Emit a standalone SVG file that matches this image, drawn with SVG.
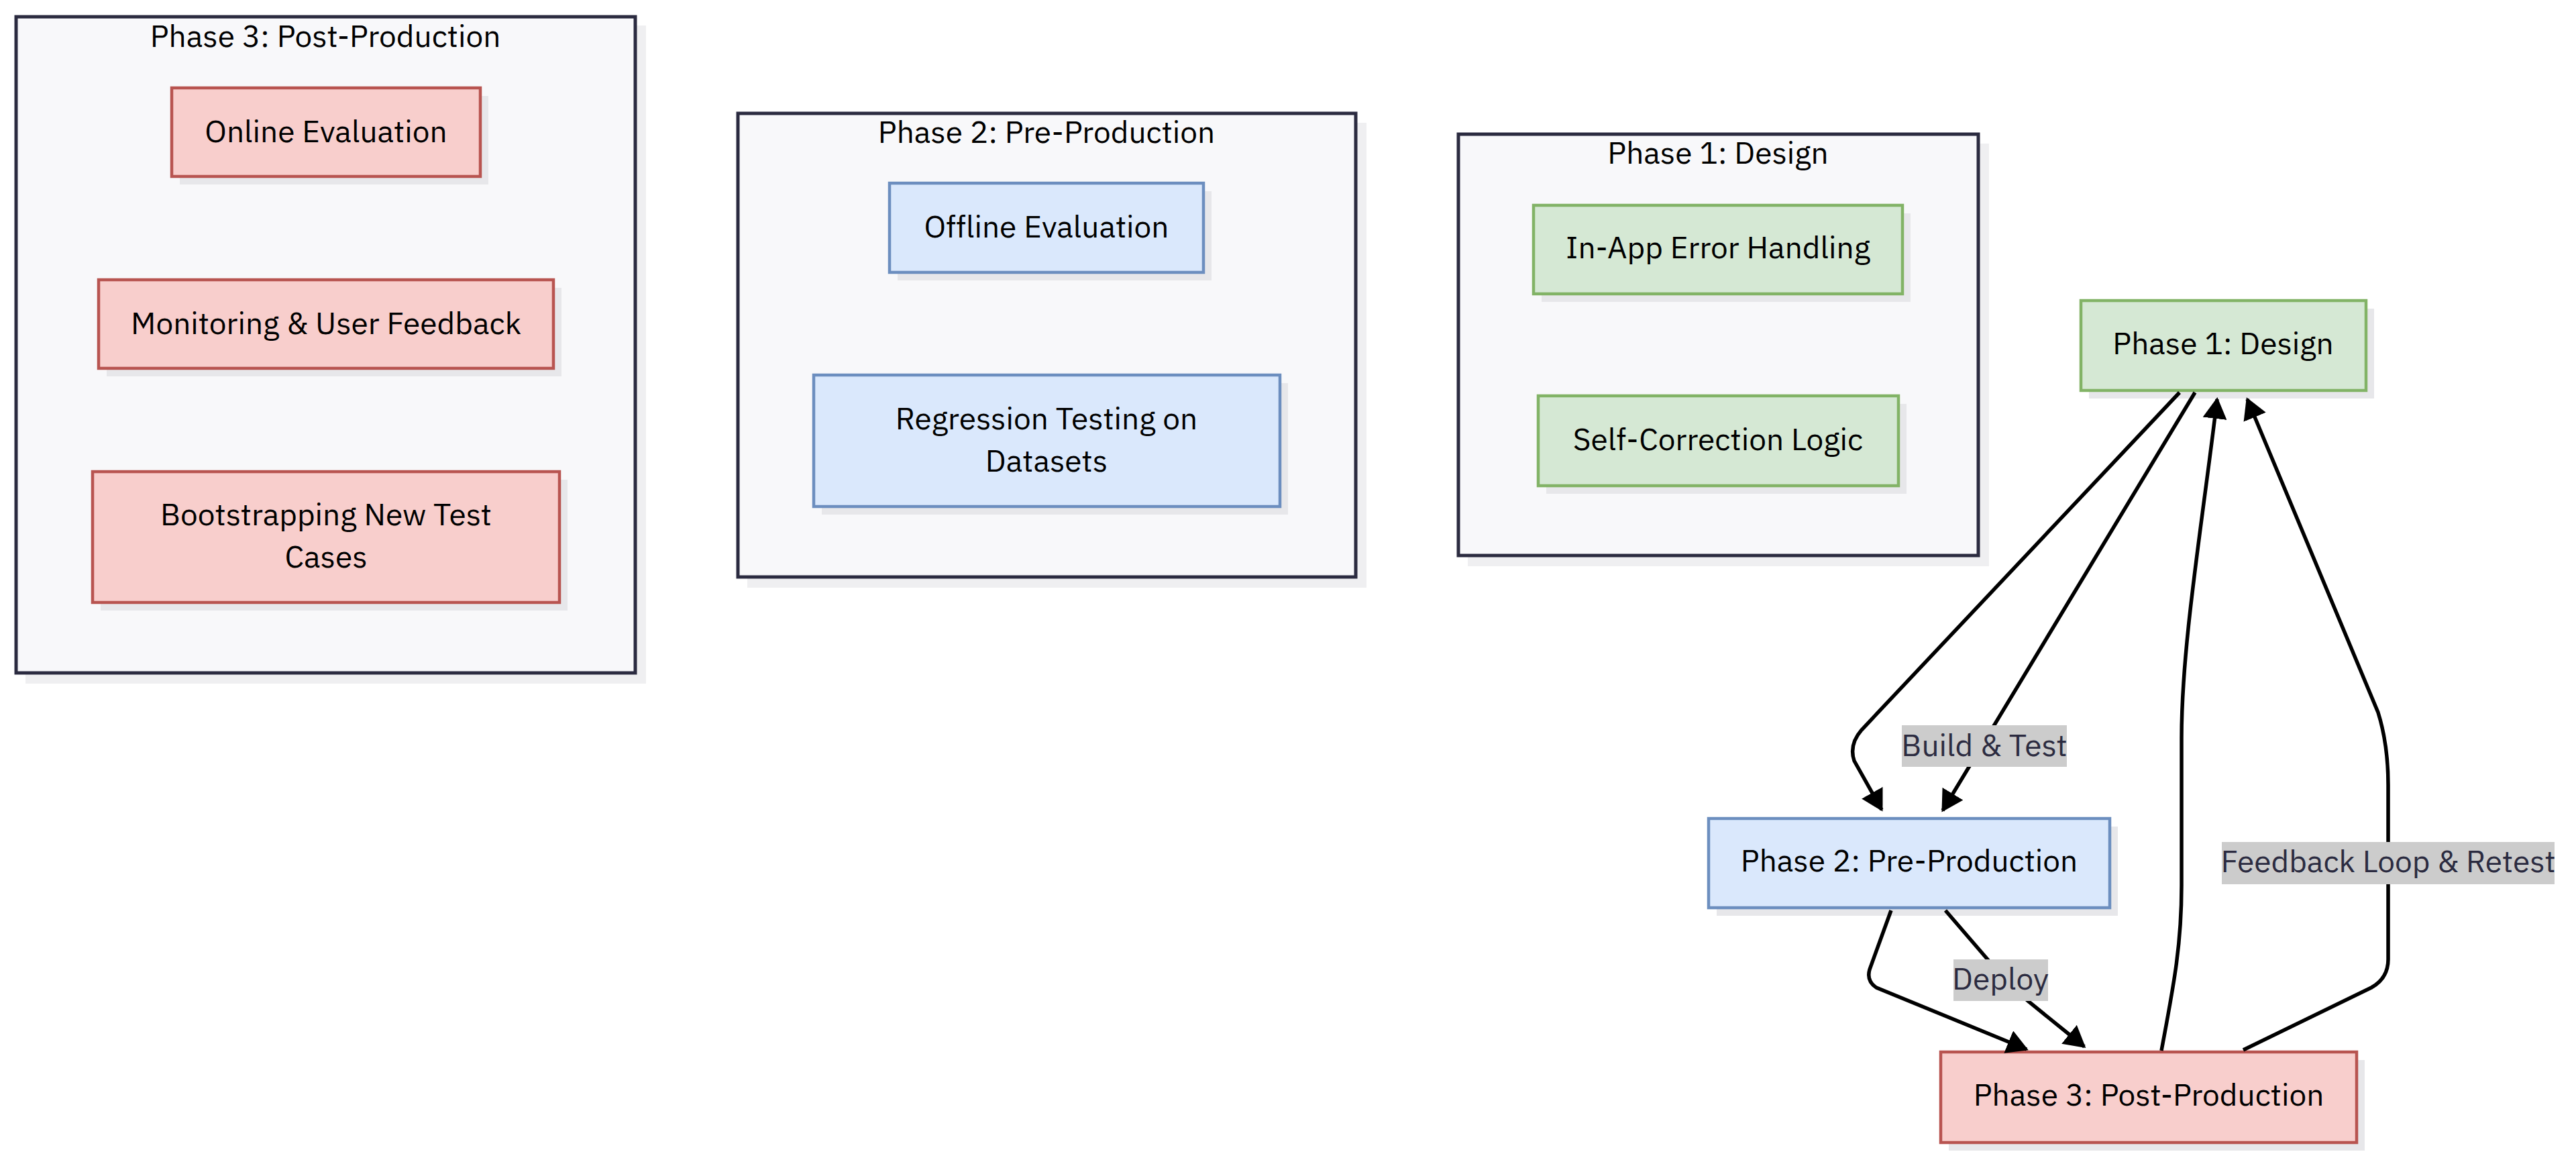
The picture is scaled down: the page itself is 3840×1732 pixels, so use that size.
<svg xmlns="http://www.w3.org/2000/svg" width="3840" height="1732" viewBox="0 0 3840 1732">
<style>
.bg{fill:#ffffff}
.cl{fill:#f8f8fa;stroke:#2b2b40;stroke-width:5}
.csh{fill:#efeff1}
.sh{fill:#e7e7ea}
.red{fill:#f8cecc;stroke:#b85450;stroke-width:4.5}
.grn{fill:#d5e8d4;stroke:#82b366;stroke-width:4.5}
.blu{fill:#dae8fc;stroke:#6c8ebf;stroke-width:4.5}
text{font-family:"IBM Plex Sans","Noto Sans","Open Sans",sans-serif;font-size:46px;fill:#000000;text-anchor:middle}
.lt{fill:#2b2b40}
.lb{fill:#cccccc}
.e{fill:none;stroke:#000000;stroke-width:5.5}
</style>
<defs>
<marker id="ah" markerUnits="userSpaceOnUse" markerWidth="32" markerHeight="36" viewBox="0 0 32 36" refX="29" refY="18" orient="auto">
<path d="M0,0 L32,18 L0,36 z" fill="#000000"/>
</marker>
</defs>
<rect class="bg" x="0" y="0" width="3840" height="1732"/>

<g id="cluster-phase3">
<rect class="csh" x="38" y="38" width="925" height="981"/>
<rect class="cl" x="24" y="25" width="923" height="978"/>
<text x="485" y="70">Phase 3: Post-Production</text>
</g>
<g id="cluster-phase2">
<rect class="csh" x="1114" y="183" width="923" height="693"/>
<rect class="cl" x="1100" y="169" width="921" height="691"/>
<text x="1560" y="213">Phase 2: Pre-Production</text>
</g>
<g id="cluster-phase1">
<rect class="csh" x="2188" y="214" width="777" height="630"/>
<rect class="cl" x="2174" y="200" width="775" height="628"/>
<text x="2561" y="244">Phase 1: Design</text>
</g>

<g id="node-online-evaluation">
<rect class="sh" x="268" y="143" width="460" height="132"/>
<rect class="red" x="256" y="131" width="460" height="132"/>
<text x="486" y="212">Online Evaluation</text>
</g>
<g id="node-monitoring">
<rect class="sh" x="159" y="429" width="678" height="132"/>
<rect class="red" x="147" y="417" width="678" height="132"/>
<text x="486" y="498">Monitoring &amp; User Feedback</text>
</g>
<g id="node-bootstrapping">
<rect class="sh" x="150" y="715" width="696" height="195"/>
<rect class="red" x="138" y="703" width="696" height="195"/>
<text x="486" y="783">Bootstrapping New Test</text>
<text x="486" y="846">Cases</text>
</g>

<g id="node-offline-evaluation">
<rect class="sh" x="1338" y="285" width="468" height="133"/>
<rect class="blu" x="1326" y="273" width="468" height="133"/>
<text x="1560" y="354">Offline Evaluation</text>
</g>
<g id="node-regression">
<rect class="sh" x="1225" y="571" width="695" height="196"/>
<rect class="blu" x="1213" y="559" width="695" height="196"/>
<text x="1560" y="640">Regression Testing on</text>
<text x="1560" y="703">Datasets</text>
</g>

<g id="node-inapp-error">
<rect class="sh" x="2298" y="318" width="550" height="132"/>
<rect class="grn" x="2286" y="306" width="550" height="132"/>
<text x="2561" y="385">In-App Error Handling</text>
</g>
<g id="node-self-correction">
<rect class="sh" x="2305" y="602" width="537" height="134"/>
<rect class="grn" x="2293" y="590" width="537" height="134"/>
<text x="2561" y="671">Self-Correction Logic</text>
</g>

<g id="node-p1">
<rect class="sh" x="3114" y="460" width="425" height="134"/>
<rect class="grn" x="3102" y="448" width="425" height="134"/>
<text x="3314" y="528">Phase 1: Design</text>
</g>
<g id="node-p2">
<rect class="sh" x="2559" y="1232" width="598" height="133"/>
<rect class="blu" x="2547" y="1220" width="598" height="133"/>
<text x="2846" y="1299">Phase 2: Pre-Production</text>
</g>
<g id="node-p3">
<rect class="sh" x="2905" y="1580" width="620" height="135"/>
<rect class="red" x="2893" y="1568" width="620" height="135"/>
<text x="3203" y="1648">Phase 3: Post-Production</text>
</g>

<g id="connectors">
<path class="e" marker-end="url(#ah)" d="M3249,585 L2775,1088 Q2756,1110 2764,1134 L2805,1207"/>
<path class="e" marker-end="url(#ah)" d="M3272,585 L2896,1208"/>
<path class="e" marker-end="url(#ah)" d="M3222,1566 C3240,1470 3252,1410 3252,1320 L3252,1100 C3252,960 3283,780 3305,595"/>
<path class="e" marker-end="url(#ah)" d="M3344,1565 L3535,1472 Q3560,1458 3560,1430 L3560,1170 Q3560,1110 3545,1062 L3350,595"/>
<path class="e" marker-end="url(#ah)" d="M2819,1357 L2787,1445 Q2782,1462 2797,1472 L3021,1564"/>
<path class="e" marker-end="url(#ah)" d="M2900,1357 L2962,1429 Q2990,1462 3023,1492 L3107,1560"/>
<g id="label-build-test">
<rect class="lb" x="2835" y="1081" width="246" height="62"/>
<text class="lt" x="2958" y="1127">Build &amp; Test</text>
</g>
<g id="label-deploy">
<rect class="lb" x="2912" y="1430" width="141" height="62"/>
<text class="lt" x="2982" y="1475">Deploy</text>
</g>
<g id="label-feedback">
<rect class="lb" x="3312" y="1255" width="496" height="63"/>
<text class="lt" x="3560" y="1300">Feedback Loop &amp; Retest</text>
</g>
</g>
</svg>
